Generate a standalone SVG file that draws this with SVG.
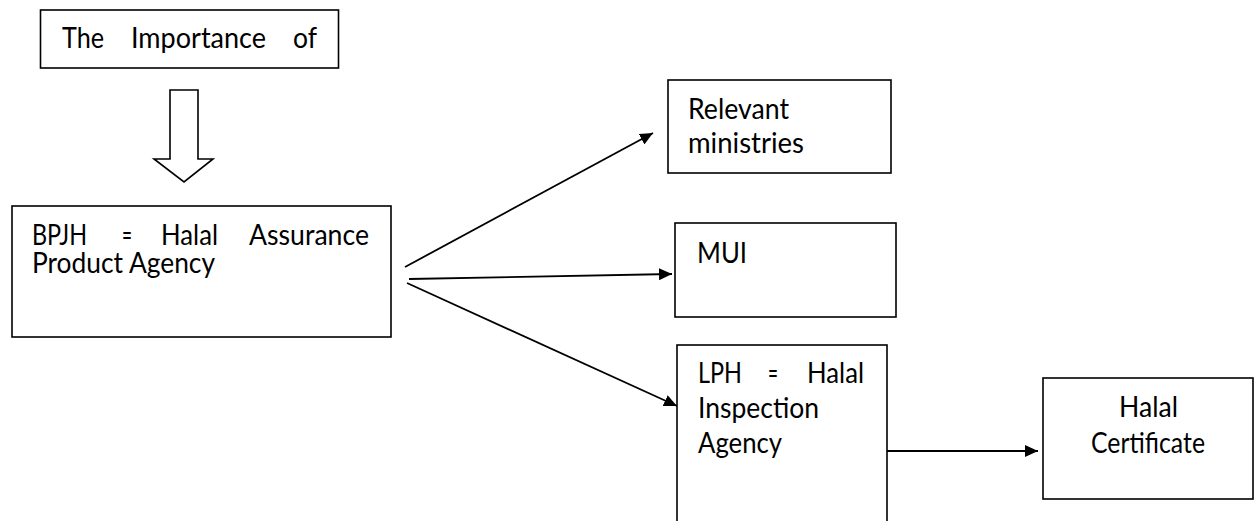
<svg xmlns="http://www.w3.org/2000/svg" width="1260" height="521" viewBox="0 0 1260 521">
<style>
.box{fill:#fff;stroke:#000;stroke-width:1.6}
.t{font-family:Lato,"Open Sans","Liberation Sans",sans-serif;font-size:28px;fill:#000}
.c{fill:none;stroke:#000;stroke-width:1.8}
</style>
<defs>
<marker id="ah" markerUnits="userSpaceOnUse" markerWidth="14" markerHeight="12" refX="13" refY="6" orient="auto">
<path d="M0,0 L13,6 L0,12 Z" fill="#000"/>
</marker>
</defs>
<rect width="1260" height="521" fill="#fff"/>
<g id="importance">
<rect class="box" x="40.5" y="10" width="298" height="58"/>
<text class="t" y="48"><tspan x="62" textLength="42" lengthAdjust="spacingAndGlyphs">The</tspan><tspan x="131" textLength="135" lengthAdjust="spacingAndGlyphs">Importance</tspan><tspan x="293" textLength="24" lengthAdjust="spacingAndGlyphs">of</tspan></text>
</g>
<g id="block-arrow">
<path class="box" d="M170,90 L198,90 L198,159 L213,159 L184,182 L154,159 L170,159 Z"/>
</g>
<g id="bpjh">
<rect class="box" x="12" y="206" width="379" height="131"/>
<text class="t" y="245"><tspan x="32" textLength="55" lengthAdjust="spacingAndGlyphs">BPJH</tspan><tspan x="122" textLength="10" lengthAdjust="spacingAndGlyphs">=</tspan><tspan x="161" textLength="57" lengthAdjust="spacingAndGlyphs">Halal</tspan><tspan x="249" textLength="120" lengthAdjust="spacingAndGlyphs">Assurance</tspan></text>
<text class="t" x="32" y="273" textLength="183" lengthAdjust="spacingAndGlyphs">Product Agency</text>
</g>
<g id="ministries">
<rect class="box" x="668" y="80" width="223" height="93"/>
<text class="t" x="688" y="119" textLength="101" lengthAdjust="spacingAndGlyphs">Relevant</text>
<text class="t" x="688" y="153" textLength="116" lengthAdjust="spacingAndGlyphs">ministries</text>
</g>
<g id="mui">
<rect class="box" x="675" y="223" width="221" height="94"/>
<text class="t" x="697" y="263" textLength="50" lengthAdjust="spacingAndGlyphs">MUI</text>
</g>
<g id="lph">
<rect class="box" x="677" y="345" width="210" height="200"/>
<text class="t" y="383"><tspan x="698" textLength="44" lengthAdjust="spacingAndGlyphs">LPH</tspan><tspan x="768" textLength="10" lengthAdjust="spacingAndGlyphs">=</tspan><tspan x="807" textLength="57" lengthAdjust="spacingAndGlyphs">Halal</tspan></text>
<text class="t" x="698" y="418" textLength="121" lengthAdjust="spacingAndGlyphs">Inspection</text>
<text class="t" x="698" y="453" textLength="84" lengthAdjust="spacingAndGlyphs">Agency</text>
</g>
<g id="certificate">
<rect class="box" x="1043" y="378" width="210" height="121"/>
<text class="t" x="1119" y="417" textLength="59" lengthAdjust="spacingAndGlyphs">Halal</text>
<text class="t" x="1091" y="453" textLength="114" lengthAdjust="spacingAndGlyphs">Certificate</text>
</g>
<g id="connectors">
<line class="c" x1="405" y1="267" x2="653" y2="133" marker-end="url(#ah)"/>
<line class="c" x1="409" y1="279" x2="672" y2="274" marker-end="url(#ah)"/>
<line class="c" x1="407" y1="283" x2="677" y2="406" marker-end="url(#ah)"/>
<line class="c" x1="887" y1="451" x2="1038" y2="451" marker-end="url(#ah)"/>
</g>
</svg>
